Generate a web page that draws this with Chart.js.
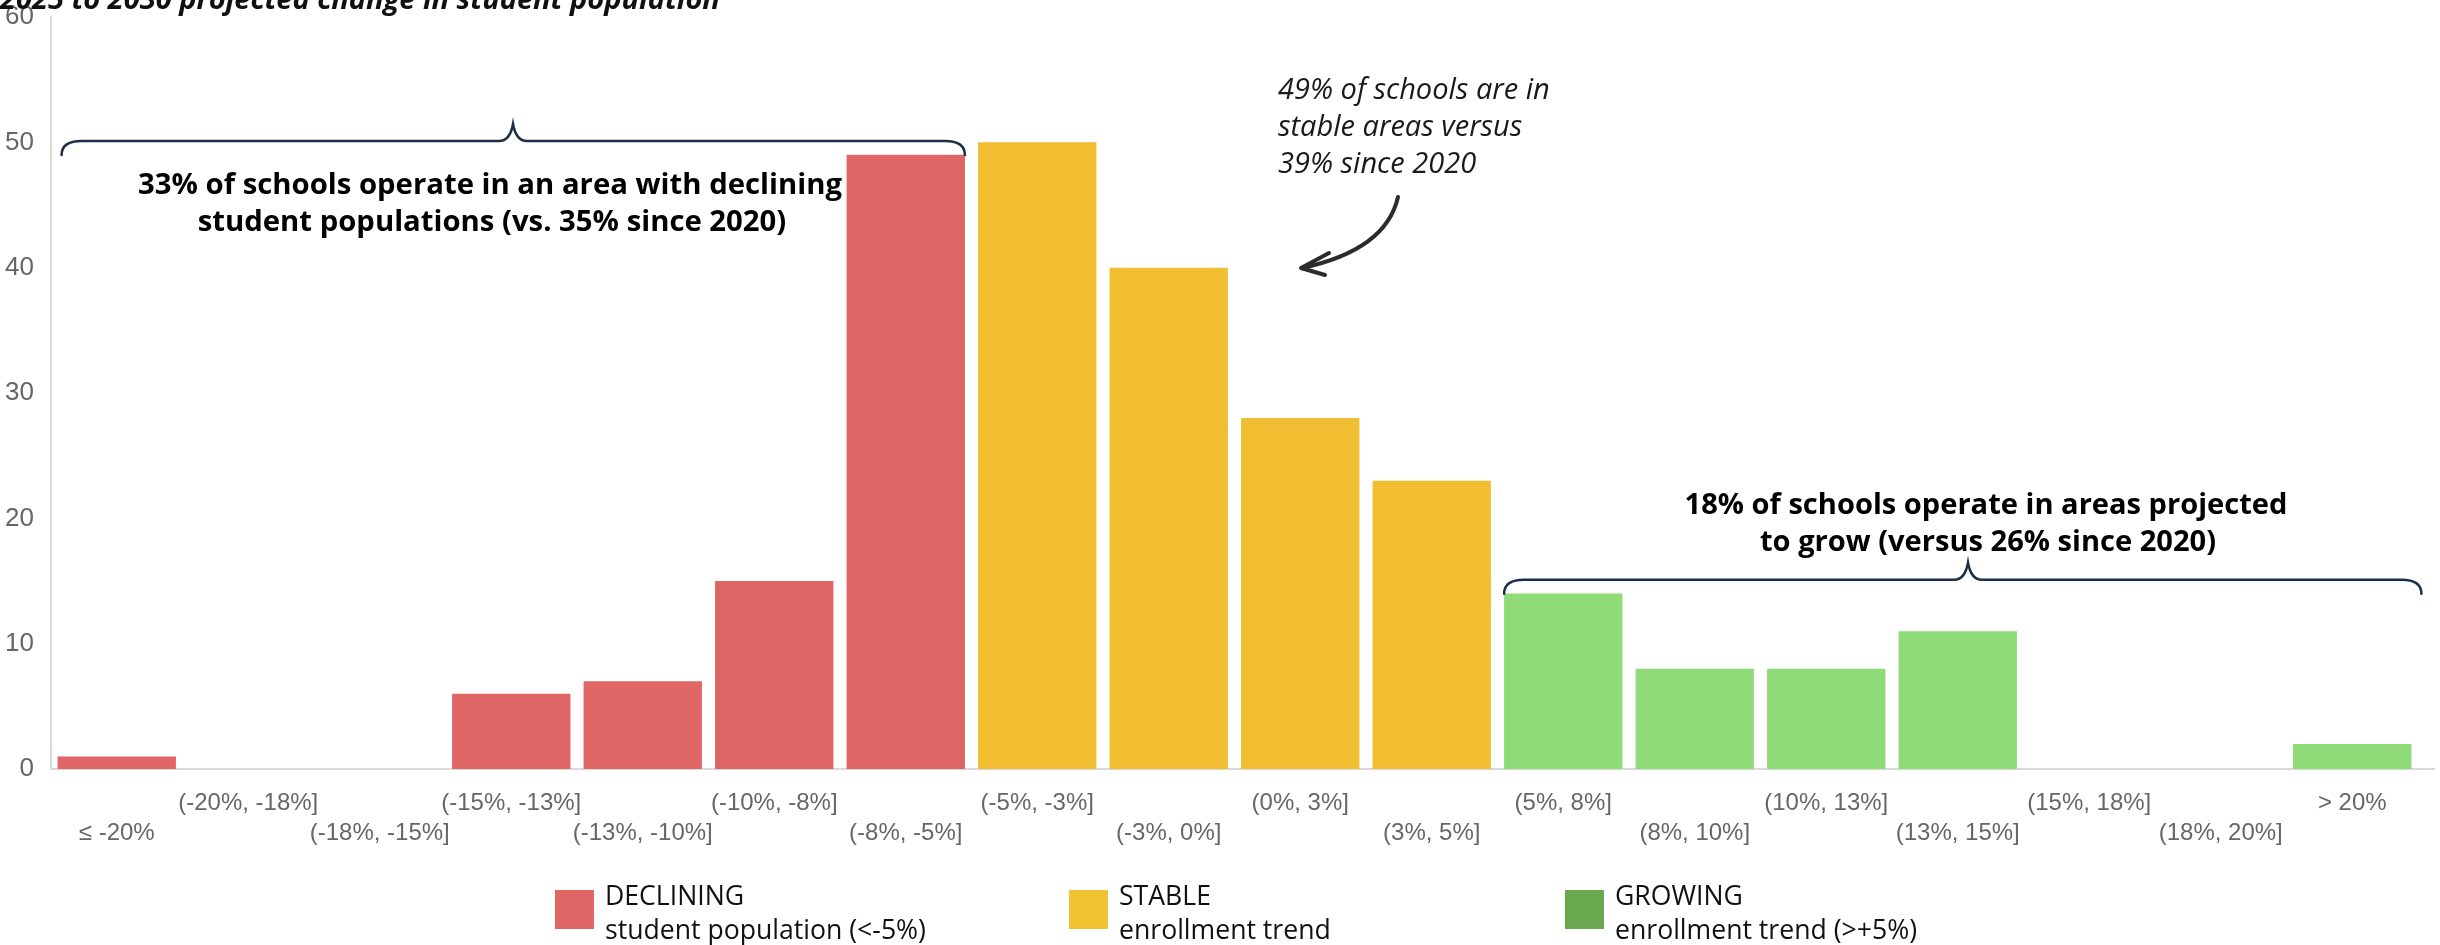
<!DOCTYPE html>
<html><head><meta charset="utf-8">
<script src="https://cdn.jsdelivr.net/npm/chart.js@4/dist/chart.umd.min.js"></script>
<style>html,body{margin:0;padding:0;background:#fff;overflow:hidden}canvas{display:block}</style>
</head><body>
<canvas id="c" width="2440" height="945"></canvas>
<script>
// ---- data ----
const categories = ['≤ -20%','(-20%, -18%]','(-18%, -15%]','(-15%, -13%]','(-13%, -10%]','(-10%, -8%]','(-8%, -5%]','(-5%, -3%]','(-3%, 0%]','(0%, 3%]','(3%, 5%]','(5%, 8%]','(8%, 10%]','(10%, 13%]','(13%, 15%]','(15%, 18%]','(18%, 20%]','> 20%'];
const schoolCounts = [1,0,0,6,7,15,49,50,40,28,23,14,8,8,11,0,0,2];
const trendGroup = ['declining','declining','declining','declining','declining','declining','declining','stable','stable','stable','stable','growing','growing','growing','growing','growing','growing','growing'];
const yTickValues = [0,10,20,30,40,50,60];
const titleText = '2025 to 2030 projected change in student population';
const legendGroups = ['declining','stable','growing'];
const legendTitles = ['DECLINING','STABLE','GROWING'];
const legendSubtitles = ['student population (<-5%)','enrollment trend','enrollment trend (>+5%)'];
const decliningNote = ['33% of schools operate in an area with declining','student populations (vs. 35% since 2020)'];
const growingNote = ['18% of schools operate in areas projected','to grow (versus 26% since 2020)'];
const stableNote = ['49% of schools are in','stable areas versus','39% since 2020'];

// ---- styles ----
const barColors = {declining:'#E06666', stable:'#F1BE32', growing:'#8FDB78'};
const legendColors = {declining:'#E06666', stable:'#F1C232', growing:'#6AA84F'};

function fitSize(ctx, text, style, weight, family, targetW){
  ctx.font = `${style} ${weight} 100px ${family}`;
  return 100 * targetW / ctx.measureText(text).width;
}
function brace(ctx, x1, x2, xm, y, tipY, endY){
  const r = 20;
  ctx.beginPath();
  ctx.moveTo(x1, endY);
  ctx.quadraticCurveTo(x1, y, x1 + r, y);
  ctx.lineTo(xm - 14, y);
  ctx.quadraticCurveTo(xm - 3, y, xm, tipY);
  ctx.quadraticCurveTo(xm + 3, y, xm + 14, y);
  ctx.lineTo(x2 - r, y);
  ctx.quadraticCurveTo(x2, y, x2, endY);
  ctx.stroke();
}

const overlay = {
  id: 'overlay',
  beforeDatasetsDraw(chart){
    const ctx = chart.ctx, a = chart.chartArea, ys = chart.scales.y;
    ctx.save();
    ctx.strokeStyle = '#d9d9d9'; ctx.lineWidth = 2;
    ctx.beginPath();
    ctx.moveTo(a.right, ys.getPixelForValue(0)); ctx.lineTo(2435, ys.getPixelForValue(0));
    ctx.stroke();
    ctx.restore();
  },
  afterDraw(chart){
    const ctx = chart.ctx, xs = chart.scales.x, ys = chart.scales.y;
    const step = xs.getPixelForValue(1) - xs.getPixelForValue(0);
    const bw = step * 0.9 / 2;
    ctx.save();
    // title (cut off at the top, as in the original)
    let s = fitSize(ctx, titleText, 'italic', 'bold', '"Open Sans"', 720);
    ctx.font = `italic bold ${s}px "Open Sans"`;
    ctx.fillStyle = '#111'; ctx.textAlign = 'left'; ctx.textBaseline = 'alphabetic';
    ctx.fillText(titleText, 0, 9);

    // braces
    ctx.strokeStyle = '#1c2f4a'; ctx.lineWidth = 2.5; ctx.lineCap = 'round';
    const dL = xs.getPixelForValue(0) - bw + 4, dR = xs.getPixelForValue(6) + bw;
    const dy = ys.getPixelForValue(50.1);
    brace(ctx, dL, dR, 513, dy, dy - 17, dy + 14);
    const gL = xs.getPixelForValue(11) - bw, gR = xs.getPixelForValue(17) + bw + 10;
    const gy = ys.getPixelForValue(15.1);
    brace(ctx, gL, gR, 1968, gy, gy - 17, gy + 14);

    // bold notes
    ctx.fillStyle = '#000'; ctx.textAlign = 'center'; ctx.textBaseline = 'middle';
    s = fitSize(ctx, decliningNote[0], 'normal', 'bold', '"Open Sans"', 704);
    ctx.font = `normal bold ${s}px "Open Sans"`;
    ctx.fillText(decliningNote[0], 490, 186);
    ctx.fillText(decliningNote[1], 492, 223);
    s = fitSize(ctx, growingNote[0], 'normal', 'bold', '"Open Sans"', 603);
    ctx.font = `normal bold ${s}px "Open Sans"`;
    ctx.fillText(growingNote[0], 1986, 506);
    ctx.fillText(growingNote[1], 1988, 543);

    // italic note
    s = fitSize(ctx, stableNote[0], 'italic', 'normal', '"Open Sans"', 272);
    ctx.font = `italic normal ${s}px "Open Sans"`;
    ctx.fillStyle = '#1a1a1a'; ctx.textAlign = 'left';
    stableNote.forEach((t, i) => ctx.fillText(t, 1278, 91 + i * 37));

    // arrow
    ctx.strokeStyle = '#2b2b2b'; ctx.lineWidth = 4; ctx.lineCap = 'round'; ctx.lineJoin = 'round';
    ctx.beginPath();
    ctx.moveTo(1398, 197);
    ctx.quadraticCurveTo(1386, 250, 1302, 268);
    ctx.stroke();
    ctx.beginPath();
    ctx.moveTo(1329, 253); ctx.lineTo(1301, 268); ctx.lineTo(1325, 275);
    ctx.stroke();

    // legend
    const sw = [555, 1069, 1565];
    s = fitSize(ctx, legendSubtitles[0], 'normal', 'normal', '"Open Sans"', 321);
    ctx.font = `normal normal ${s}px "Open Sans"`;
    ctx.textAlign = 'left';
    legendGroups.forEach((g, i) => {
      ctx.fillStyle = legendColors[g];
      ctx.fillRect(sw[i], 890, 39, 39);
      ctx.fillStyle = '#111';
      ctx.fillText(legendTitles[i], sw[i] + 50, 897);
      ctx.fillText(legendSubtitles[i], sw[i] + 50, 931);
    });
    ctx.restore();
  }
};

new Chart(document.getElementById('c'), {
  type: 'bar',
  data: {
    labels: categories,
    datasets: [{
      data: schoolCounts,
      backgroundColor: trendGroup.map(g => barColors[g]),
      borderWidth: 0,
      barPercentage: 0.9,
      categoryPercentage: 1.0
    }]
  },
  options: {
    responsive: false,
    animation: false,
    devicePixelRatio: 1,
    layout: { padding: { top: 0, right: 22, left: 0, bottom: 0 } },
    plugins: { legend: { display: false }, tooltip: { enabled: false }, title: { display: false } },
    scales: {
      x: {
        grid: { display: false, drawTicks: false },
        border: { display: true, color: '#d9d9d9', width: 2 },
        ticks: {
          autoSkip: false, maxRotation: 0, minRotation: 0, padding: 19,
          color: '#666', font: { family: '"Liberation Sans", Arial, sans-serif', size: 24, lineHeight: 1.25 },
          callback: (v, i) => i % 2 === 0 ? ['', categories[i]] : [categories[i]]
        },
        afterFit: s => { s.height = 176; s.paddingTop = 0; s.paddingBottom = 0; }
      },
      y: {
        min: 0, max: 60,
        afterBuildTicks: s => { s.ticks = yTickValues.map(v => ({ value: v })); },
        grid: { display: false, drawTicks: false },
        border: { display: true, color: '#d9d9d9', width: 2 },
        ticks: { padding: 17, color: '#666', font: { family: '"Liberation Sans", Arial, sans-serif', size: 26 } },
        afterFit: s => { s.width = 51; s.paddingTop = 17; s.paddingBottom = 0; }
      }
    }
  },
  plugins: [overlay]
});
</script>
</body></html>
